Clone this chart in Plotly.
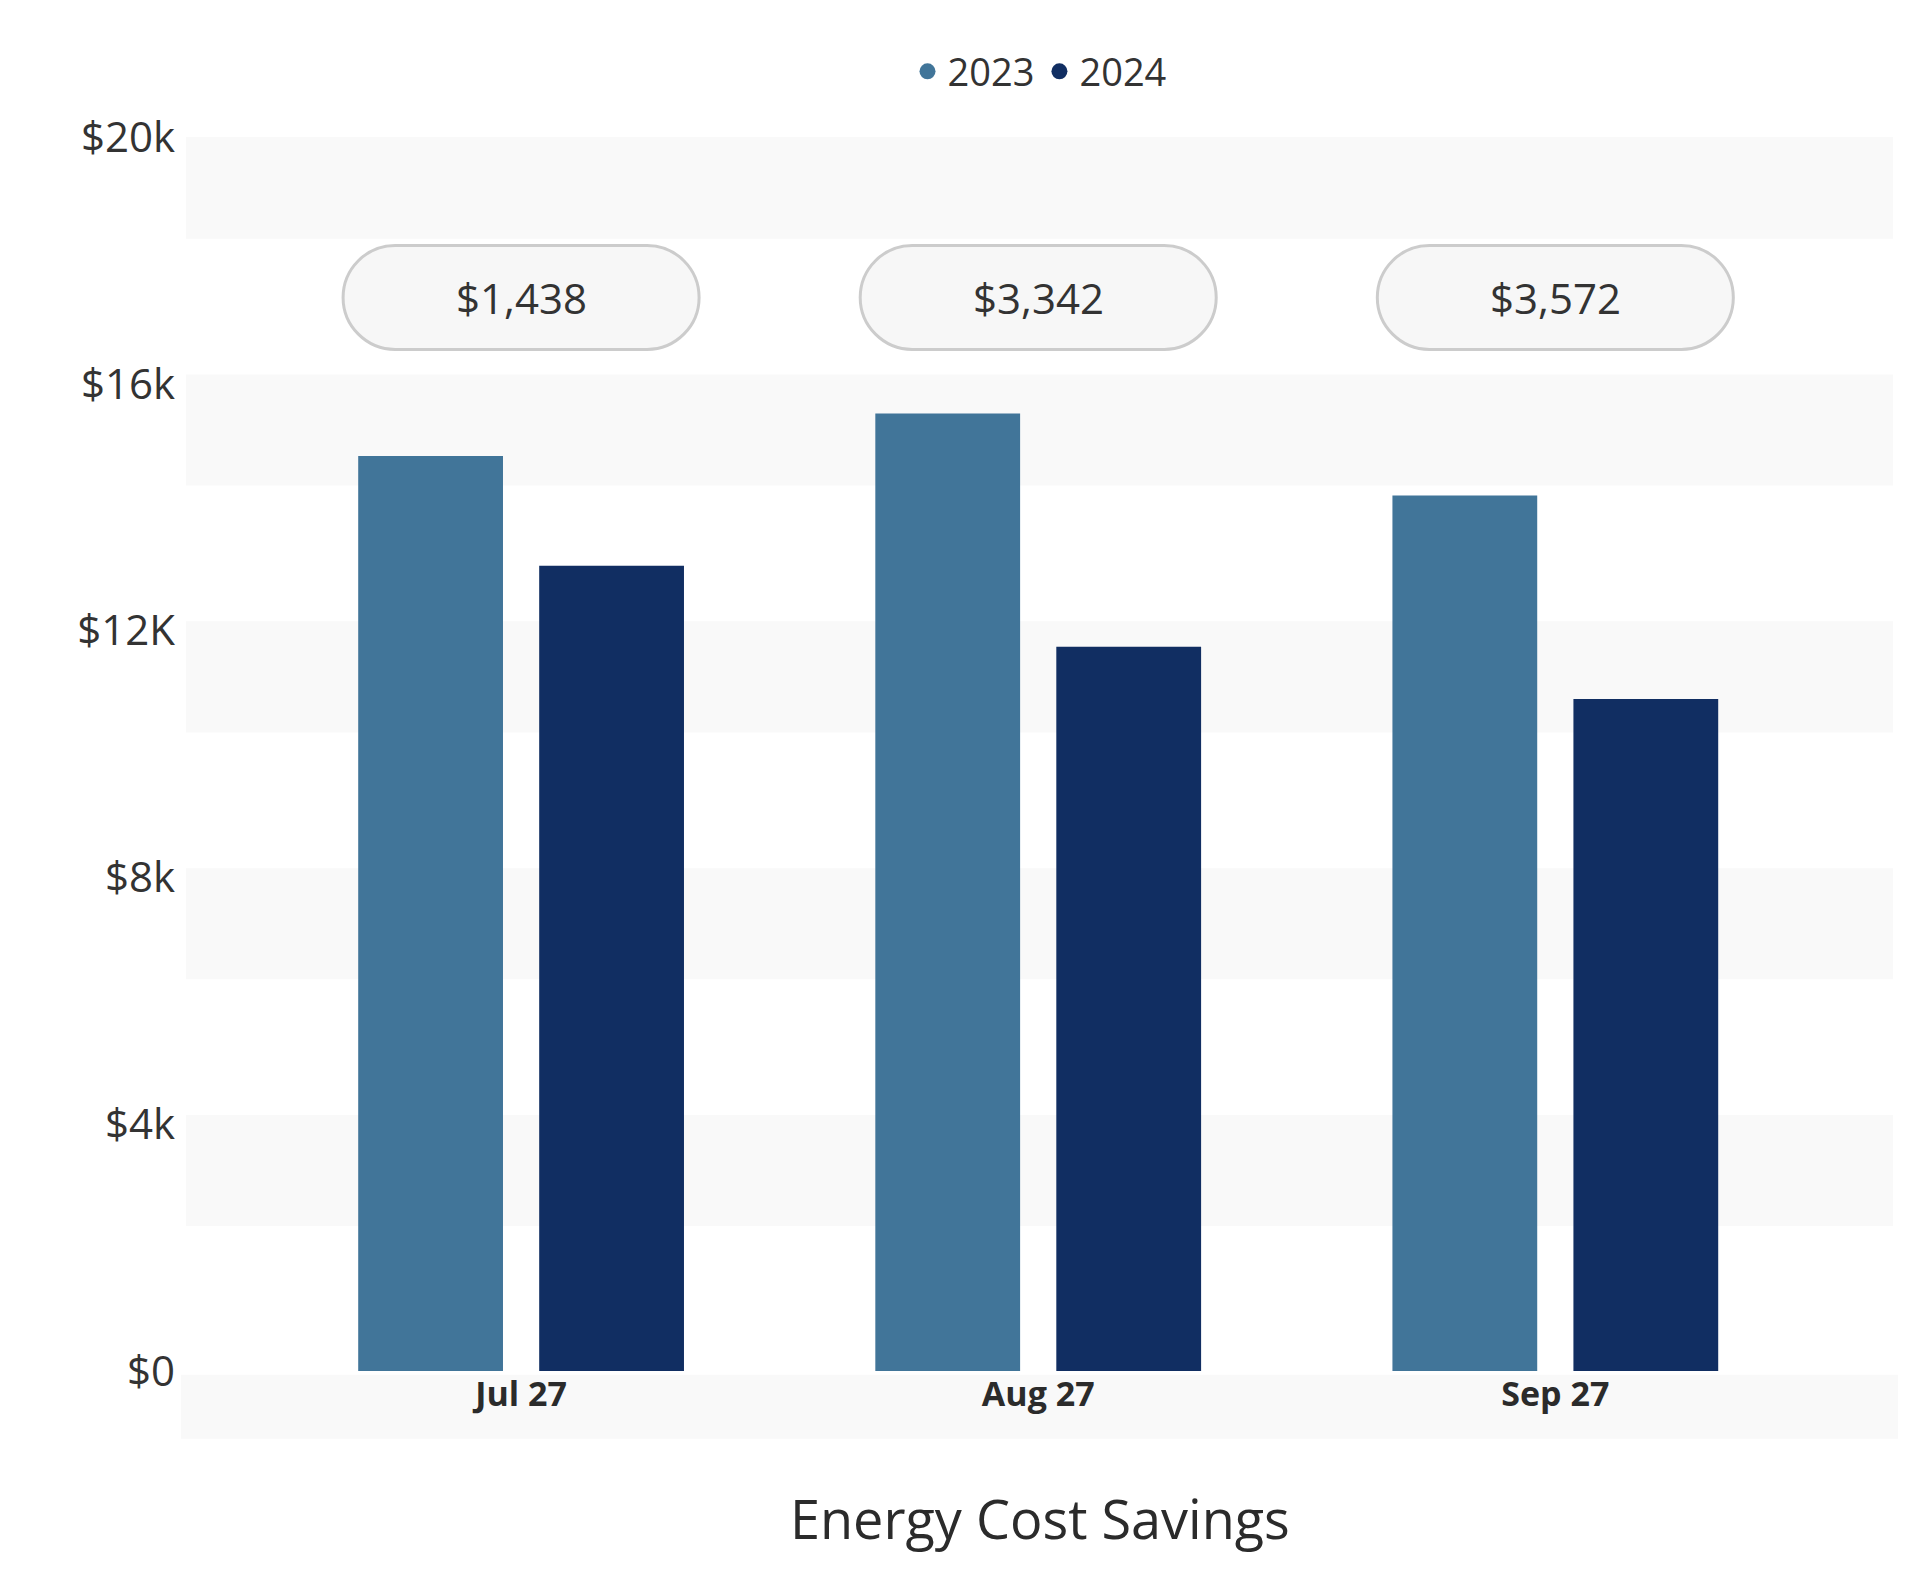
import plotly.graph_objects as go

categories = ["Jul 27", "Aug 27", "Sep 27"]
v2023 = [14830, 15520, 14190]
v2024 = [13050, 11740, 10890]
savings = ["$1,438", "$3,342", "$3,572"]
tick_vals = [0, 4000, 8000, 12000, 16000, 20000]
tick_text = ["$0", "$4k", "$8k", "$12K", "$16k", "$20k"]
c2023, c2024 = "#417599", "#112e62"

FONT = "Open Sans"
fig = go.Figure()
fig.add_bar(x=[0, 1, 2], y=v2023, name="2023", marker_color=c2023, showlegend=False)
fig.add_bar(x=[0, 1, 2], y=v2024, name="2024", marker_color=c2024, showlegend=False)
for nm, c in [("2023", c2023), ("2024", c2024)]:
    fig.add_scatter(x=[None], y=[None], mode="markers", name=nm,
                    marker=dict(color=c, size=40, symbol="circle"))

shapes = []
for t in tick_vals[1:]:
    shapes.append(dict(type="rect", xref="paper", yref="y", x0=0, x1=1,
                       y0=t - 1650, y1=t + 150 if t < 20000 else 20000,
                       fillcolor="#f9f9f9", line_width=0, layer="below"))
shapes.append(dict(type="rect", xref="paper", yref="paper", x0=-0.003, x1=1.003,
                   y0=-0.055, y1=-0.003, fillcolor="#f9f9f9", line_width=0, layer="below"))
w, h, r = 356, 104, 52
k = 0.55 * r
L, R, B, T = -w / 2, w / 2, -h / 2, h / 2
pill = (f"M{L+r},{B} L{R-r},{B} C{R-r+k},{B} {R},{B+r-k} {R},{0} "
        f"C{R},{T-r+k} {R-r+k},{T} {R-r},{T} L{L+r},{T} "
        f"C{L+r-k},{T} {L},{T-r+k} {L},{0} C{L},{B+r-k} {L+r-k},{B} {L+r},{B} Z")
annotations = []
for i, s in enumerate(savings):
    shapes.append(dict(type="path", xref="x", yref="y", xsizemode="pixel", ysizemode="pixel",
                       xanchor=i, yanchor=17400, path=pill, fillcolor="#f7f7f7",
                       line=dict(color="#cccccc", width=3)))
    annotations.append(dict(x=i, y=17400, text=s, showarrow=False,
                            font=dict(size=42, color="#333333", family=FONT)))
annotations.append(dict(xref="paper", yref="paper", x=0.5, y=-0.119, yanchor="middle",
                        text="Energy Cost Savings", showarrow=False,
                        font=dict(size=54, color="#2b2b2b", family=FONT)))

fig.update_layout(
    width=1920, height=1580, plot_bgcolor="white", paper_bgcolor="white",
    margin=dict(l=178, r=35, t=129, b=217, autoexpand=False),
    barmode="group", bargap=0.3, bargroupgap=0.2,
    font=dict(family=FONT, color="#333333"),
    legend=dict(orientation="h", x=0.5, xanchor="center", y=1.053, yanchor="middle",
                font=dict(size=38, color="#333333"), itemsizing="trace"),
    xaxis=dict(range=[-0.648, 2.653], tickvals=[0, 1, 2], ticktext=[f"<b>{c}</b>" for c in categories],
               tickfont=dict(size=34, color="#2b2b2b"), showgrid=False, zeroline=False, ticks=""),
    yaxis=dict(range=[0, 20000], tickvals=tick_vals, ticktext=tick_text, showgrid=False,
               zeroline=False, tickfont=dict(size=42, color="#333333"), ticklabelstandoff=10),
    shapes=shapes, annotations=annotations, showlegend=True,
)
fig.update_traces(marker_line_width=0, selector=dict(type="bar"))
fig.write_html("out.html")
